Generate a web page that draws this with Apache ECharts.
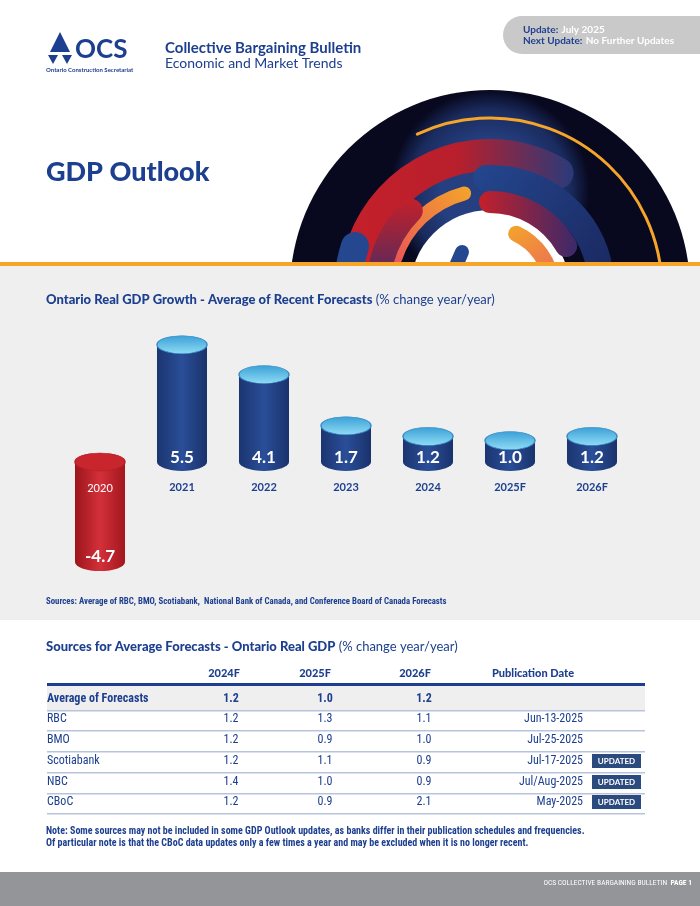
<!DOCTYPE html>
<html><head><meta charset="utf-8">
<script src="https://cdn.jsdelivr.net/npm/echarts@6/dist/echarts.min.js"></script>
<style>html,body{margin:0;padding:0;background:#fff}#c{width:700px;height:906px}</style>
</head><body><div id="c"></div>
<script>
const years = ['2020','2021','2022','2023','2024','2025F','2026F'];
const gdp = [-4.7, 5.5, 4.1, 1.7, 1.2, 1.0, 1.2];
const tableCols = ['2024F','2025F','2026F','Publication Date'];
const sources = ['Average of Forecasts','RBC','BMO','Scotiabank','NBC','CBoC'];
const f2024 = ['1.2','1.2','1.2','1.2','1.4','1.2'];
const f2025 = ['1.0','1.3','0.9','1.1','1.0','0.9'];
const f2026 = ['1.2','1.1','1.0','0.9','0.9','2.1'];
const pubDates = ['','Jun-13-2025','Jul-25-2025','Jul-17-2025','Jul/Aug-2025','May-2025'];
const updated = [false,false,false,true,true,true];

const NAVY='#1d3f8f', F='Lato, "Open Sans", sans-serif', FC='"Liberation Sans Narrow","Roboto Condensed",Roboto, sans-serif';
const chart = echarts.init(document.getElementById('c'));
const g = [];
const cx=490, cy=290;
function arc(r,a0,a1,w,color,z){g.push({type:'arc',z:z||3,shape:{cx,cy,r,startAngle:a0*Math.PI/180,endAngle:a1*Math.PI/180},style:{stroke:color,lineWidth:w,lineCap:'round',fill:null}});}
g.push({type:'sector',z:1,shape:{cx,cy,r:200,r0:0,startAngle:Math.PI,endAngle:2*Math.PI},
  style:{fill:new echarts.graphic.RadialGradient(0.5,0.5,0.5,[{offset:0.5,color:'#253f80'},{offset:0.8,color:'#1a2b5e'},{offset:1,color:'#08081e'}])}});
arc(172,245,360,3,'#f4a52a',2);
g.push({type:'circle',z:2,shape:{cx,cy,r:80},style:{fill:'#fff'}});
arc(135,195,300,32,new echarts.graphic.LinearGradient(0,0,1,0,[{offset:0,color:'#c4202a'},{offset:0.5,color:'#b81f2c'},{offset:1,color:'#2a3a7a'}]),3);
arc(142,172,198,28,'#24478f',4);
arc(100,198,255,14,new echarts.graphic.LinearGradient(0,1,1,0,[{offset:0,color:'#e8505a'},{offset:1,color:'#f4a52a'}]),3);
arc(112,195,225,24,new echarts.graphic.LinearGradient(0,1,0,0,[{offset:0,color:'#5a2a5a'},{offset:1,color:'#c4202a'}]),4);
arc(112,268,345,26,new echarts.graphic.LinearGradient(0,0,1,1,[{offset:0,color:'#24478f'},{offset:1,color:'#1a2860'}]),4);
arc(88,270,330,22,new echarts.graphic.LinearGradient(0,0,1,0,[{offset:0,color:'#c4202a'},{offset:1,color:'#3a2a6a'}]),5);
arc(62,295,355,16,new echarts.graphic.LinearGradient(0,0,1,1,[{offset:0,color:'#f4a52a'},{offset:1,color:'#e86060'}]),5);
g.push({type:'line',z:5,shape:{x1:462,y1:252,x2:455,y2:268},style:{stroke:'#24478f',lineWidth:14,lineCap:'round'}});
g.push({type:'rect',z:6,shape:{x:0,y:265,width:700,height:355},style:{fill:'#efefef'}});
g.push({type:'rect',z:7,shape:{x:0,y:262,width:700,height:4},style:{fill:'#f4a52a'}});
g.push({type:'polygon',z:7,shape:{points:[[60,32],[70,52],[50,52]]},style:{fill:NAVY}});
g.push({type:'polygon',z:7,shape:{points:[[48,55],[58,55],[53,64]]},style:{fill:NAVY}});
g.push({type:'polygon',z:7,shape:{points:[[62,55],[72,55],[67,64]]},style:{fill:NAVY}});
g.push({type:'text',z:7,x:75,y:50,style:{text:'OCS',font:'bold 26px '+F,fill:NAVY,textVerticalAlign:'middle'}});
g.push({type:'text',z:7,x:46,y:70,style:{text:'Ontario Construction Secretariat',font:'bold 6px '+F,fill:NAVY,textVerticalAlign:'middle'}});
g.push({type:'text',z:7,x:165,y:48,style:{text:'Collective Bargaining Bulletin',font:'bold 15px '+F,fill:NAVY,textVerticalAlign:'middle'}});
g.push({type:'text',z:7,x:165,y:63,style:{text:'Economic and Market Trends',font:'14px '+F,fill:NAVY,textVerticalAlign:'middle'}});
g.push({type:'rect',z:7,shape:{x:503,y:16,width:220,height:38,r:19},style:{fill:'#c9c9c9'}});
g.push({type:'text',z:8,x:523,y:30,style:{text:'{b|Update:} {w|July 2025}',rich:{b:{font:'bold 10px '+F,fill:NAVY},w:{font:'bold 10px '+F,fill:'#fff'}},textVerticalAlign:'middle'}});
g.push({type:'text',z:8,x:523,y:41,style:{text:'{b|Next Update:} {w|No Further Updates}',rich:{b:{font:'bold 10px '+F,fill:NAVY},w:{font:'bold 10px '+F,fill:'#fff'}},textVerticalAlign:'middle'}});
g.push({type:'text',z:7,x:46,y:172,style:{text:'GDP Outlook',font:'900 27px '+F,fill:NAVY,textVerticalAlign:'middle'}});
g.push({type:'text',z:8,x:46,y:300,style:{text:'{b|Ontario Real GDP Growth - Average of Recent Forecasts} {r|(% change year/year)}',rich:{b:{font:'900 13px '+F,fill:NAVY},r:{font:'13px '+F,fill:NAVY}},textVerticalAlign:'middle'}});
g.push({type:'text',z:8,x:46,y:602,style:{text:'Sources: Average of RBC, BMO, Scotiabank,  National Bank of Canada, and Conference Board of Canada Forecasts',font:'bold 8.8px '+FC,fill:NAVY,textVerticalAlign:'middle'}});
g.push({type:'text',z:8,x:46,y:647,style:{text:'{b|Sources for Average Forecasts - Ontario Real GDP} {r|(% change year/year)}',rich:{b:{font:'900 13px '+F,fill:NAVY},r:{font:'13px '+F,fill:NAVY}},textVerticalAlign:'middle'}});
const colX=[224,315,415,533];
tableCols.forEach((c,i)=>g.push({type:'text',z:8,x:colX[i],y:673,style:{text:c,font:'900 11px '+F,fill:NAVY,align:'center',textVerticalAlign:'middle'}}));
g.push({type:'rect',z:7,shape:{x:47,y:686,width:598,height:24},style:{fill:'#efefef'}});
g.push({type:'rect',z:8,shape:{x:47,y:683,width:598,height:3},style:{fill:NAVY}});
const rowY=[699,719,740,761,782,802];
sources.forEach((s,i)=>{
  const b=i===0?'bold ':'';
  const y=rowY[i];
  g.push({type:'text',z:8,x:47,y,style:{text:s,font:b+'12px '+FC,fill:NAVY,textVerticalAlign:'middle'}});
  [f2024[i],f2025[i],f2026[i]].forEach((v,j)=>g.push({type:'text',z:8,x:[231,325,424][j],y,style:{text:v,font:b+'12px '+FC,fill:NAVY,align:'center',textVerticalAlign:'middle'}}));
  if(pubDates[i]) g.push({type:'text',z:8,x:583,y,style:{text:pubDates[i],font:'12px '+FC,fill:NAVY,align:'right',textVerticalAlign:'middle'}});
  if(updated[i]){g.push({type:'rect',z:8,shape:{x:592,y:y-7,width:49,height:14},style:{fill:'#2b4a7e'}});
    g.push({type:'text',z:9,x:616.5,y,style:{text:'UPDATED',font:'bold 8px '+F,fill:'#fff',align:'center',textVerticalAlign:'middle'}});}
  g.push({type:'rect',z:8,shape:{x:47,y:y+11,width:598,height:1.5},style:{fill:'#b8c4dc'}});
});
g.push({type:'text',z:8,x:46,y:831,style:{text:'Note: Some sources may not be included in some GDP Outlook updates, as banks differ in their publication schedules and frequencies.',font:'bold 10px '+FC,fill:NAVY,textVerticalAlign:'middle'}});
g.push({type:'text',z:8,x:46,y:843,style:{text:'Of particular note is that the CBoC data updates only a few times a year and may be excluded when it is no longer recent.',font:'bold 10px '+FC,fill:NAVY,textVerticalAlign:'middle'}});
g.push({type:'rect',z:7,shape:{x:0,y:872,width:700,height:34},style:{fill:'#939598'}});
g.push({type:'text',z:8,x:692,y:883,style:{text:'{r|OCS COLLECTIVE BARGAINING BULLETIN} {b|PAGE 1}',rich:{r:{font:'7.5px '+FC,fill:'#fff'},b:{font:'bold 7.5px '+FC,fill:'#fff'}},align:'right',textVerticalAlign:'middle'}});

function renderItem(params, api){
  const i=api.value(0), v=api.value(1);
  const p0=api.coord([i,0]), p1=api.coord([i,v]);
  const w=api.size([1,0])[0]*0.61, rx=w/2, ry=9, x=p0[0]-rx;
  const neg=v<0, top=Math.min(p0[1],p1[1]), bot=Math.max(p0[1],p1[1]);
  const body=neg?[{offset:0,color:'#9c151b'},{offset:0.5,color:'#d3303a'},{offset:1,color:'#a3171d'}]
                :[{offset:0,color:'#1b3570'},{offset:0.5,color:'#2a4e98'},{offset:1,color:'#1a326c'}];
  const grad=new echarts.graphic.LinearGradient(0,0,1,0,body);
  const ell=(cyy,fill,stroke)=>({type:'circle',x:p0[0],y:cyy,scaleY:ry/rx,shape:{cx:0,cy:0,r:rx},style:{fill,stroke,lineWidth:stroke?1.5:0}});
  const topFill=neg?'#c8262c'
                   :new echarts.graphic.LinearGradient(0,0,0,1,[{offset:0,color:'#3a9fd6'},{offset:1,color:'#8fdcf5'}]);
  const ch=[
    {type:'rect',shape:{x,y:top,width:w,height:bot-top},style:{fill:grad}},
    ell(bot,grad,null),
    ell(top,topFill,neg?'#b51f25':'#3a8cc8')
  ];
  const lbl=(t,y,s,b)=>({type:'text',x:p0[0],y,style:{text:t,font:(b?'bold ':'')+s+'px '+F,fill:'#fff',align:'center',textVerticalAlign:'middle'}});
  if(neg){ch.push(lbl(years[i],p0[1]+27,11,0));ch.push(lbl(v.toFixed(1),bot-6,17,1));}
  else{ch.push(lbl(v.toFixed(1),bot-4,17,1));ch.push({type:'text',x:p0[0],y:p0[1]+26,style:{text:years[i],font:'bold 11px '+F,fill:NAVY,align:'center',textVerticalAlign:'middle'}});}
  return {type:'group',children:ch};
}
chart.setOption({
  animation:false,
  grid:{left:59,width:574,top:334,height:234.5},
  xAxis:{type:'category',data:years,show:false},
  yAxis:{type:'value',min:-5,max:6,show:false},
  graphic:{elements:g},
  series:[{type:'custom',z:20,renderItem,encode:{x:0,y:1},data:gdp.map((v,i)=>[i,v])}]
});
</script></body></html>
